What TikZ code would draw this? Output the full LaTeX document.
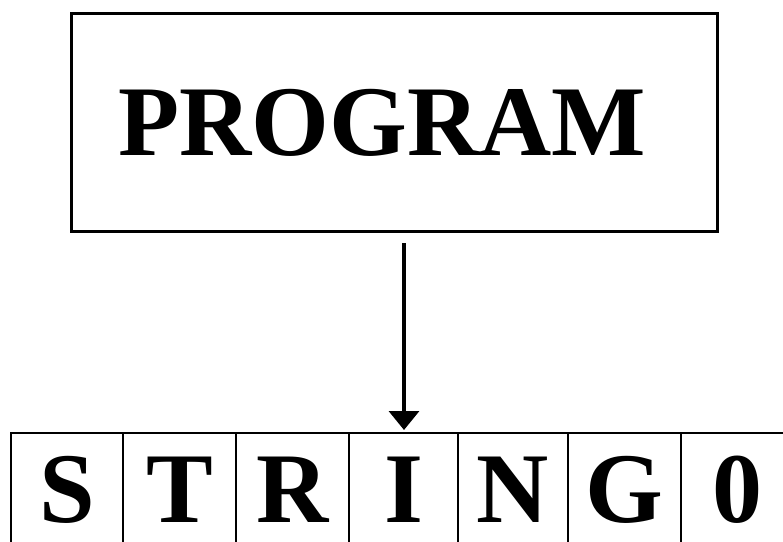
\documentclass[tikz,border=0pt]{standalone}
\usepackage{fontspec}
\setmainfont{Liberation Serif}
\usetikzlibrary{arrows.meta}
\begin{document}
\begin{tikzpicture}[x=1pt,y=-1pt,
  bigtext/.style={font=\fontsize{100}{100}\selectfont\bfseries, inner sep=0pt,
                  text depth=0pt, anchor=base},
  cell/.style={draw=black, line width=2.6pt},
  link/.style={line width=3.5pt, -{Triangle[width=30pt,length=19pt]}}]
  \useasboundingbox (0,0) rectangle (783,541);
  \clip (0,0) rectangle (783,541);

  % program box
  \node[draw=black, line width=2.8pt, minimum width=646pt, minimum height=218pt,
        inner sep=0pt, anchor=north west] (prog) at (70,12) {};
  \node[bigtext] (progtext) at (382.5,155) {PROGRAM};

  % string cells (the row runs past the right edge)
  \foreach \name/\xa/\xb/\ch in {s/11/123/S, t/123/236/T, r/236/349/R, i/349/458/I,
                                 n/458/568/N, g/568/681/G, z/681/794/0} {
    \draw[cell] (\xa,433) rectangle (\xb,560);
    \coordinate (\name) at ({(\xa+\xb)/2},433);
    \node[bigtext] (\name text) at ({(\xa+\xb)/2},522) {\ch};
  }

  % pointer into the string
  \coordinate (ptop) at (404,243);
  \draw[link] (ptop) -- (404,430);
\end{tikzpicture}
\end{document}
